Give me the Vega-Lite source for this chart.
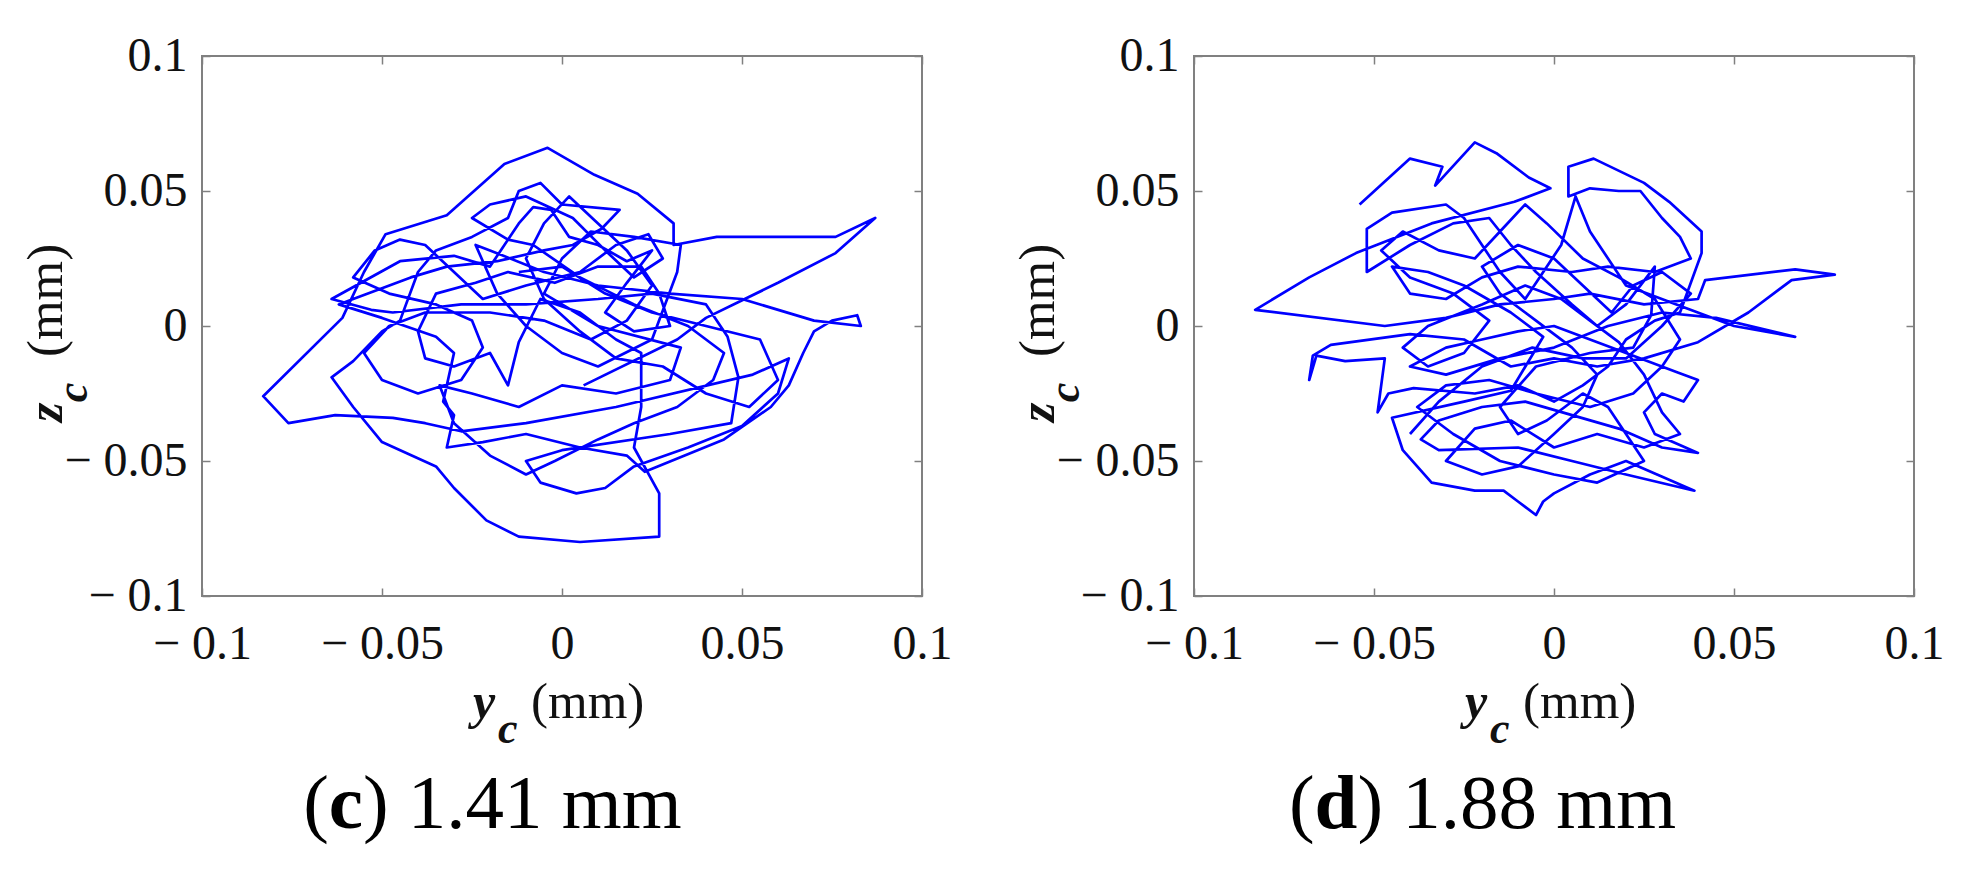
{
  "$schema": "https://vega.github.io/schema/vega-lite/v6.json",
  "background": "white",
  "padding": {"left": 19, "top": 31, "right": 5, "bottom": 5},
  "bounds": "flush",
  "spacing": 272,
  "config": {
    "view": {"stroke": "#808080", "strokeWidth": 2},
    "font": "Liberation Serif",
    "axis": {"grid": false, "domain": false, "labelFont": "Liberation Serif", "labelFontSize": 48, "labelColor": "#111111", "tickColor": "#808080", "tickWidth": 1.5, "tickSize": -8, "labelFlush": false, "labelOverlap": false, "labelBound": false}
  },
  "datasets": {
    "c": [
      {"yc":0.006,"zc":-0.022},{"yc":0.032,"zc":-0.005},{"yc":0.040,"zc":0.003},{"yc":0.060,"zc":0.016},{"yc":0.076,"zc":0.027},{"yc":0.087,"zc":0.040},{"yc":0.076,"zc":0.033},{"yc":0.053,"zc":0.033},{"yc":0.043,"zc":0.033},{"yc":0.031,"zc":0.030},
      {"yc":0.031,"zc":0.038},{"yc":0.021,"zc":0.049},{"yc":0.009,"zc":0.056},{"yc":-0.004,"zc":0.066},{"yc":-0.016,"zc":0.060},{"yc":-0.032,"zc":0.041},{"yc":-0.049,"zc":0.034},{"yc":-0.055,"zc":0.020},{"yc":-0.061,"zc":0.003},{"yc":-0.083,"zc":-0.026},
      {"yc":-0.076,"zc":-0.036},{"yc":-0.063,"zc":-0.033},{"yc":-0.047,"zc":-0.034},{"yc":-0.038,"zc":-0.036},{"yc":-0.028,"zc":-0.039},{"yc":-0.010,"zc":-0.036},{"yc":0.015,"zc":-0.030},{"yc":0.053,"zc":-0.018},{"yc":0.063,"zc":-0.012},{"yc":0.060,"zc":-0.025},
      {"yc":0.050,"zc":-0.037},{"yc":0.035,"zc":-0.045},{"yc":0.020,"zc":-0.052},{"yc":0.012,"zc":-0.060},{"yc":0.004,"zc":-0.062},{"yc":-0.006,"zc":-0.058},{"yc":-0.010,"zc":-0.050},{"yc":0.000,"zc":-0.046},{"yc":0.030,"zc":-0.040},{"yc":0.047,"zc":-0.036},
      {"yc":0.049,"zc":-0.019},{"yc":0.046,"zc":-0.004},{"yc":0.040,"zc":0.008},{"yc":0.025,"zc":0.012},{"yc":0.010,"zc":0.010},{"yc":-0.010,"zc":0.008},{"yc":-0.028,"zc":0.008},{"yc":-0.047,"zc":0.005},{"yc":-0.053,"zc":0.006},{"yc":-0.064,"zc":0.010},
      {"yc":-0.045,"zc":0.024},{"yc":-0.030,"zc":0.026},{"yc":-0.020,"zc":0.022},{"yc":-0.012,"zc":0.038},{"yc":-0.008,"zc":0.044},{"yc":-0.003,"zc":0.043},{"yc":0.002,"zc":0.033},{"yc":0.010,"zc":0.030},{"yc":0.018,"zc":0.024},{"yc":0.025,"zc":0.028},
      {"yc":0.018,"zc":0.016},{"yc":0.012,"zc":0.005},{"yc":0.020,"zc":-0.002},{"yc":0.030,"zc":0.000},{"yc":0.027,"zc":0.012},{"yc":0.022,"zc":0.022},{"yc":0.010,"zc":0.022},{"yc":-0.002,"zc":0.016},{"yc":-0.015,"zc":0.020},{"yc":-0.024,"zc":0.016},
      {"yc":-0.035,"zc":0.012},{"yc":-0.040,"zc":-0.002},{"yc":-0.038,"zc":-0.012},{"yc":-0.030,"zc":-0.015},{"yc":-0.020,"zc":-0.010},{"yc":-0.015,"zc":-0.022},{"yc":-0.012,"zc":-0.006},{"yc":-0.006,"zc":0.010},{"yc":0.005,"zc":0.005},{"yc":0.015,"zc":-0.005},
      {"yc":0.022,"zc":-0.010},{"yc":0.022,"zc":-0.030},{"yc":0.020,"zc":-0.045},{"yc":0.027,"zc":-0.062},{"yc":0.027,"zc":-0.078},{"yc":0.005,"zc":-0.080},{"yc":-0.012,"zc":-0.078},{"yc":-0.021,"zc":-0.072},{"yc":-0.030,"zc":-0.060},{"yc":-0.035,"zc":-0.052},
      {"yc":-0.050,"zc":-0.043},{"yc":-0.058,"zc":-0.030},{"yc":-0.064,"zc":-0.019},{"yc":-0.058,"zc":-0.013},{"yc":-0.050,"zc":-0.002},{"yc":-0.045,"zc":0.002},{"yc":-0.040,"zc":0.020},{"yc":-0.035,"zc":0.028},{"yc":-0.025,"zc":0.033},{"yc":-0.015,"zc":0.040},
      {"yc":-0.012,"zc":0.050},{"yc":-0.006,"zc":0.053},{"yc":0.000,"zc":0.045},{"yc":0.016,"zc":0.043},{"yc":0.011,"zc":0.036},{"yc":0.003,"zc":0.030},{"yc":-0.005,"zc":0.028},{"yc":-0.018,"zc":0.024},{"yc":-0.032,"zc":0.022},{"yc":-0.042,"zc":0.018},
      {"yc":-0.058,"zc":0.010},{"yc":-0.062,"zc":0.008},{"yc":-0.050,"zc":0.003},{"yc":-0.035,"zc":-0.004},{"yc":-0.030,"zc":-0.010},{"yc":-0.033,"zc":-0.028},{"yc":-0.030,"zc":-0.033},{"yc":-0.032,"zc":-0.045},{"yc":-0.022,"zc":-0.043},{"yc":-0.010,"zc":-0.040},
      {"yc":0.005,"zc":-0.045},{"yc":0.018,"zc":-0.048},{"yc":0.023,"zc":-0.054},{"yc":0.045,"zc":-0.042},{"yc":0.058,"zc":-0.030},{"yc":0.063,"zc":-0.022},{"yc":0.067,"zc":-0.010},{"yc":0.070,"zc":-0.002},{"yc":0.075,"zc":0.002},{"yc":0.082,"zc":0.004},
      {"yc":0.083,"zc":0.000},{"yc":0.070,"zc":0.002},{"yc":0.050,"zc":0.010},{"yc":0.030,"zc":0.012},{"yc":0.010,"zc":0.015},{"yc":-0.005,"zc":0.020},{"yc":-0.020,"zc":0.028},{"yc":-0.024,"zc":0.030},{"yc":-0.018,"zc":0.012},{"yc":-0.010,"zc":0.000},
      {"yc":0.000,"zc":-0.010},{"yc":0.010,"zc":-0.015},{"yc":0.025,"zc":-0.005},{"yc":0.032,"zc":0.020},{"yc":0.033,"zc":0.030},{"yc":0.020,"zc":0.033},{"yc":0.008,"zc":0.035},{"yc":0.000,"zc":0.025},{"yc":-0.005,"zc":0.012},{"yc":0.010,"zc":0.000},
      {"yc":0.033,"zc":-0.008},{"yc":0.030,"zc":-0.020},{"yc":0.015,"zc":-0.025},{"yc":0.000,"zc":-0.022},{"yc":-0.012,"zc":-0.030},{"yc":-0.025,"zc":-0.025},{"yc":-0.034,"zc":-0.022},{"yc":-0.030,"zc":-0.036},{"yc":-0.020,"zc":-0.048},{"yc":-0.010,"zc":-0.055},
      {"yc":-0.002,"zc":-0.050},{"yc":0.010,"zc":-0.042},{"yc":0.020,"zc":-0.036},{"yc":0.032,"zc":-0.030},{"yc":0.042,"zc":-0.020},{"yc":0.045,"zc":-0.010},{"yc":0.035,"zc":0.000},{"yc":0.020,"zc":0.008},{"yc":0.005,"zc":0.018},{"yc":-0.008,"zc":0.030},
      {"yc":-0.015,"zc":0.032},{"yc":-0.025,"zc":0.040},{"yc":-0.020,"zc":0.045},{"yc":-0.010,"zc":0.048},{"yc":0.003,"zc":0.040},{"yc":0.012,"zc":0.028},{"yc":0.020,"zc":0.018},{"yc":0.028,"zc":0.025},{"yc":0.024,"zc":0.034},{"yc":0.015,"zc":0.030},
      {"yc":0.005,"zc":0.020},{"yc":-0.010,"zc":0.015},{"yc":-0.022,"zc":0.010},{"yc":-0.030,"zc":0.020},{"yc":-0.038,"zc":0.030},{"yc":-0.045,"zc":0.032},{"yc":-0.052,"zc":0.028},{"yc":-0.058,"zc":0.018},{"yc":-0.048,"zc":0.012},{"yc":-0.035,"zc":0.008},
      {"yc":-0.025,"zc":0.002},{"yc":-0.022,"zc":-0.008},{"yc":-0.028,"zc":-0.020},{"yc":-0.040,"zc":-0.025},{"yc":-0.050,"zc":-0.020},{"yc":-0.055,"zc":-0.010},{"yc":-0.048,"zc":0.000},{"yc":-0.038,"zc":0.005},{"yc":-0.020,"zc":0.005},{"yc":-0.005,"zc":0.002},
      {"yc":0.008,"zc":-0.005},{"yc":0.018,"zc":0.002},{"yc":0.025,"zc":0.015},{"yc":0.018,"zc":0.028},{"yc":0.010,"zc":0.038},{"yc":0.002,"zc":0.048},{"yc":-0.005,"zc":0.038},{"yc":-0.010,"zc":0.025},{"yc":-0.005,"zc":0.010},{"yc":0.005,"zc":-0.002},
      {"yc":0.015,"zc":-0.012},{"yc":0.028,"zc":-0.015},{"yc":0.040,"zc":-0.025},{"yc":0.052,"zc":-0.030},{"yc":0.060,"zc":-0.020},{"yc":0.055,"zc":-0.005},{"yc":0.040,"zc":0.000},{"yc":0.025,"zc":0.005},{"yc":0.012,"zc":0.012},{"yc":0.000,"zc":0.022},
      {"yc":-0.012,"zc":0.020}
    ],
    "d": [
      {"yc":-0.054,"zc":0.045},{"yc":-0.040,"zc":0.062},{"yc":-0.031,"zc":0.059},{"yc":-0.033,"zc":0.052},{"yc":-0.022,"zc":0.068},{"yc":-0.016,"zc":0.064},{"yc":-0.007,"zc":0.055},{"yc":-0.001,"zc":0.051},{"yc":-0.011,"zc":0.046},{"yc":-0.034,"zc":0.038},
      {"yc":-0.055,"zc":0.027},{"yc":-0.068,"zc":0.018},{"yc":-0.083,"zc":0.006},{"yc":-0.047,"zc":0.000},{"yc":-0.030,"zc":0.003},{"yc":-0.015,"zc":0.008},{"yc":0.000,"zc":0.010},{"yc":0.010,"zc":0.012},{"yc":0.025,"zc":0.008},{"yc":0.040,"zc":0.010},
      {"yc":0.042,"zc":0.017},{"yc":0.067,"zc":0.021},{"yc":0.078,"zc":0.019},{"yc":0.066,"zc":0.017},{"yc":0.054,"zc":0.005},{"yc":0.040,"zc":-0.006},{"yc":0.025,"zc":-0.012},{"yc":0.012,"zc":-0.015},{"yc":0.000,"zc":-0.012},{"yc":-0.012,"zc":-0.015},
      {"yc":-0.025,"zc":-0.005},{"yc":-0.040,"zc":-0.003},{"yc":-0.062,"zc":-0.007},{"yc":-0.067,"zc":-0.011},{"yc":-0.068,"zc":-0.020},{"yc":-0.066,"zc":-0.011},{"yc":-0.058,"zc":-0.013},{"yc":-0.047,"zc":-0.012},{"yc":-0.049,"zc":-0.032},{"yc":-0.046,"zc":-0.025},
      {"yc":-0.039,"zc":-0.023},{"yc":-0.022,"zc":-0.025},{"yc":-0.010,"zc":-0.022},{"yc":0.000,"zc":-0.028},{"yc":0.008,"zc":-0.022},{"yc":0.015,"zc":-0.015},{"yc":0.020,"zc":-0.005},{"yc":0.028,"zc":0.002},{"yc":0.035,"zc":0.005},{"yc":0.041,"zc":0.027},
      {"yc":0.041,"zc":0.035},{"yc":0.032,"zc":0.046},{"yc":0.025,"zc":0.053},{"yc":0.011,"zc":0.062},{"yc":0.004,"zc":0.059},{"yc":0.004,"zc":0.048},{"yc":0.010,"zc":0.051},{"yc":0.018,"zc":0.050},{"yc":0.024,"zc":0.050},{"yc":0.030,"zc":0.040},
      {"yc":0.035,"zc":0.033},{"yc":0.038,"zc":0.025},{"yc":0.028,"zc":0.020},{"yc":0.015,"zc":0.022},{"yc":0.005,"zc":0.020},{"yc":-0.010,"zc":0.022},{"yc":-0.020,"zc":0.018},{"yc":-0.030,"zc":0.010},{"yc":-0.040,"zc":0.012},{"yc":-0.045,"zc":0.022},
      {"yc":-0.035,"zc":0.020},{"yc":-0.025,"zc":0.015},{"yc":-0.012,"zc":0.005},{"yc":-0.003,"zc":-0.004},{"yc":-0.012,"zc":-0.024},{"yc":-0.025,"zc":-0.028},{"yc":-0.045,"zc":-0.034},{"yc":-0.042,"zc":-0.046},{"yc":-0.034,"zc":-0.058},{"yc":-0.022,"zc":-0.061},
      {"yc":-0.014,"zc":-0.061},{"yc":-0.010,"zc":-0.065},{"yc":-0.005,"zc":-0.070},{"yc":-0.003,"zc":-0.065},{"yc":0.000,"zc":-0.062},{"yc":0.010,"zc":-0.055},{"yc":0.020,"zc":-0.050},{"yc":0.039,"zc":-0.061},{"yc":0.020,"zc":-0.055},{"yc":0.005,"zc":-0.050},
      {"yc":-0.010,"zc":-0.045},{"yc":-0.032,"zc":-0.046},{"yc":-0.037,"zc":-0.042},{"yc":-0.032,"zc":-0.035},{"yc":-0.020,"zc":-0.030},{"yc":-0.008,"zc":-0.028},{"yc":0.005,"zc":-0.033},{"yc":0.018,"zc":-0.038},{"yc":0.030,"zc":-0.045},{"yc":0.040,"zc":-0.047},
      {"yc":0.028,"zc":-0.040},{"yc":0.025,"zc":-0.032},{"yc":0.030,"zc":-0.025},{"yc":0.036,"zc":-0.028},{"yc":0.040,"zc":-0.020},{"yc":0.034,"zc":-0.017},{"yc":0.020,"zc":-0.010},{"yc":0.010,"zc":-0.005},{"yc":0.000,"zc":0.000},{"yc":-0.010,"zc":-0.002},
      {"yc":-0.020,"zc":-0.005},{"yc":-0.030,"zc":-0.008},{"yc":-0.040,"zc":-0.015},{"yc":-0.030,"zc":-0.018},{"yc":-0.015,"zc":-0.012},{"yc":0.000,"zc":-0.008},{"yc":0.015,"zc":0.000},{"yc":0.030,"zc":0.005},{"yc":0.045,"zc":0.003},{"yc":0.067,"zc":-0.004},
      {"yc":0.050,"zc":0.000},{"yc":0.034,"zc":0.008},{"yc":0.020,"zc":0.015},{"yc":0.010,"zc":0.035},{"yc":0.006,"zc":0.048},{"yc":0.002,"zc":0.030},{"yc":-0.004,"zc":0.018},{"yc":-0.008,"zc":0.010},{"yc":-0.015,"zc":0.020},{"yc":-0.020,"zc":0.030},
      {"yc":-0.025,"zc":0.040},{"yc":-0.030,"zc":0.045},{"yc":-0.045,"zc":0.042},{"yc":-0.052,"zc":0.036},{"yc":-0.052,"zc":0.020},{"yc":-0.040,"zc":0.030},{"yc":-0.028,"zc":0.038},{"yc":-0.018,"zc":0.040},{"yc":-0.012,"zc":0.030},{"yc":-0.005,"zc":0.020},
      {"yc":0.005,"zc":0.008},{"yc":0.012,"zc":0.000},{"yc":0.020,"zc":0.008},{"yc":0.028,"zc":0.022},{"yc":0.027,"zc":0.004},{"yc":0.022,"zc":-0.008},{"yc":0.010,"zc":-0.010},{"yc":-0.005,"zc":-0.015},{"yc":-0.015,"zc":-0.030},{"yc":-0.010,"zc":-0.040},
      {"yc":-0.002,"zc":-0.035},{"yc":0.008,"zc":-0.025},{"yc":0.015,"zc":-0.030},{"yc":0.020,"zc":-0.040},{"yc":0.025,"zc":-0.050},{"yc":0.012,"zc":-0.058},{"yc":0.000,"zc":-0.055},{"yc":-0.015,"zc":-0.050},{"yc":-0.028,"zc":-0.040},{"yc":-0.038,"zc":-0.030},
      {"yc":-0.030,"zc":-0.022},{"yc":-0.018,"zc":-0.020},{"yc":-0.005,"zc":-0.025},{"yc":0.010,"zc":-0.030},{"yc":0.022,"zc":-0.025},{"yc":0.030,"zc":-0.015},{"yc":0.035,"zc":-0.005},{"yc":0.028,"zc":0.010},{"yc":0.018,"zc":0.018},{"yc":0.008,"zc":0.025},
      {"yc":-0.002,"zc":0.038},{"yc":-0.008,"zc":0.045},{"yc":-0.015,"zc":0.035},{"yc":-0.022,"zc":0.025},{"yc":-0.032,"zc":0.028},{"yc":-0.042,"zc":0.035},{"yc":-0.048,"zc":0.028},{"yc":-0.040,"zc":0.018},{"yc":-0.028,"zc":0.012},{"yc":-0.018,"zc":0.002},
      {"yc":-0.025,"zc":-0.010},{"yc":-0.035,"zc":-0.015},{"yc":-0.042,"zc":-0.008},{"yc":-0.035,"zc":0.000},{"yc":-0.020,"zc":0.008},{"yc":-0.008,"zc":0.015},{"yc":0.002,"zc":0.010},{"yc":0.010,"zc":0.002},{"yc":0.018,"zc":-0.006},{"yc":0.025,"zc":-0.018},
      {"yc":0.030,"zc":-0.032},{"yc":0.035,"zc":-0.040},{"yc":0.025,"zc":-0.045},{"yc":0.012,"zc":-0.040},{"yc":0.000,"zc":-0.045},{"yc":-0.012,"zc":-0.035},{"yc":-0.022,"zc":-0.038},{"yc":-0.030,"zc":-0.050},{"yc":-0.020,"zc":-0.055},{"yc":-0.010,"zc":-0.052},
      {"yc":0.000,"zc":-0.040},{"yc":0.008,"zc":-0.030},{"yc":0.012,"zc":-0.018},{"yc":0.005,"zc":-0.008},{"yc":-0.005,"zc":0.002},{"yc":-0.015,"zc":0.012},{"yc":-0.020,"zc":0.022},{"yc":-0.010,"zc":0.030},{"yc":0.000,"zc":0.025},{"yc":0.008,"zc":0.015},
      {"yc":0.016,"zc":0.005},{"yc":0.022,"zc":0.015},{"yc":0.030,"zc":0.020},{"yc":0.038,"zc":0.012},{"yc":0.030,"zc":0.000},{"yc":0.020,"zc":-0.012},{"yc":0.008,"zc":-0.012},{"yc":-0.006,"zc":-0.008},{"yc":-0.020,"zc":-0.015},{"yc":-0.032,"zc":-0.028},
      {"yc":-0.040,"zc":-0.040}
    ]
  },
  "hconcat": [
    {
      "width": 720, "height": 540,
      "resolve": {"axis": {"x": "independent", "y": "independent"}},
      "layer": [
        {"data": {"name": "c"}, "mark": {"type": "line", "color": "#0000ff", "strokeWidth": 2.7, "order": false, "strokeJoin": "round"},
         "encoding": {
           "x": {"field": "yc", "type": "quantitative", "scale": {"domain": [-0.1, 0.1], "nice": false, "zero": false}, "axis": {"orient": "bottom", "title": null, "values": [-0.1, -0.05, 0, 0.05, 0.1], "labelPadding": 32, "labelExpr": "datum.value < 0 ? '\u2212 ' + format(-datum.value, '~g') : format(datum.value, '~g')"}},
           "y": {"field": "zc", "type": "quantitative", "scale": {"domain": [-0.1, 0.1], "nice": false, "zero": false}, "axis": {"orient": "left", "title": null, "values": [-0.1, -0.05, 0, 0.05, 0.1], "labelPadding": 23, "labelExpr": "datum.value < 0 ? '\u2212 ' + format(-datum.value, '~g') : format(datum.value, '~g')"}}
         }},
        {"data": {"values": [{}]}, "mark": {"type": "point", "opacity": 0},
         "encoding": {
           "x": {"datum": 0, "type": "quantitative", "scale": {"domain": [-0.1, 0.1]}, "axis": {"orient": "top", "title": null, "labels": false, "values": [-0.1, -0.05, 0, 0.05, 0.1]}},
           "y": {"datum": 0, "type": "quantitative", "scale": {"domain": [-0.1, 0.1]}, "axis": {"orient": "right", "title": null, "labels": false, "values": [-0.1, -0.05, 0, 0.05, 0.1]}}
         }},
        {"data": {"values": [{}]}, "mark": {"type": "text", "text": "y", "font": "Liberation Serif", "fontSize": 50, "fontStyle": "italic", "fontWeight": "bold", "align": "left", "baseline": "alphabetic", "color": "#111111"},
         "encoding": {"x": {"datum": -0.0247, "type": "quantitative", "scale": {"domain": [-0.1, 0.1]}, "axis": null}, "y": {"datum": -0.1452, "type": "quantitative", "scale": {"domain": [-0.1, 0.1]}, "axis": null}}},
        {"data": {"values": [{}]}, "mark": {"type": "text", "text": "c", "font": "Liberation Serif", "fontSize": 44, "fontStyle": "italic", "fontWeight": "bold", "align": "left", "baseline": "alphabetic", "color": "#111111"},
         "encoding": {"x": {"datum": -0.0178, "type": "quantitative", "scale": {"domain": [-0.1, 0.1]}, "axis": null}, "y": {"datum": -0.1544, "type": "quantitative", "scale": {"domain": [-0.1, 0.1]}, "axis": null}}},
        {"data": {"values": [{}]}, "mark": {"type": "text", "text": "(mm)", "font": "Liberation Serif", "fontSize": 51, "align": "left", "baseline": "alphabetic", "color": "#111111"},
         "encoding": {"x": {"datum": -0.0086, "type": "quantitative", "scale": {"domain": [-0.1, 0.1]}, "axis": null}, "y": {"datum": -0.1452, "type": "quantitative", "scale": {"domain": [-0.1, 0.1]}, "axis": null}}},
        {"data": {"values": [{}]}, "mark": {"type": "text", "text": "z", "font": "Liberation Serif", "fontSize": 50, "fontStyle": "italic", "fontWeight": "bold", "align": "left", "baseline": "alphabetic", "angle": 270, "color": "#111111"},
         "encoding": {"x": {"datum": -0.1389, "type": "quantitative", "scale": {"domain": [-0.1, 0.1]}, "axis": null}, "y": {"datum": -0.0356, "type": "quantitative", "scale": {"domain": [-0.1, 0.1]}, "axis": null}}},
        {"data": {"values": [{}]}, "mark": {"type": "text", "text": "c", "font": "Liberation Serif", "fontSize": 44, "fontStyle": "italic", "fontWeight": "bold", "align": "left", "baseline": "alphabetic", "angle": 270, "color": "#111111"},
         "encoding": {"x": {"datum": -0.1319, "type": "quantitative", "scale": {"domain": [-0.1, 0.1]}, "axis": null}, "y": {"datum": -0.0282, "type": "quantitative", "scale": {"domain": [-0.1, 0.1]}, "axis": null}}},
        {"data": {"values": [{}]}, "mark": {"type": "text", "text": "(mm)", "font": "Liberation Serif", "fontSize": 51, "align": "left", "baseline": "alphabetic", "angle": 270, "color": "#111111"},
         "encoding": {"x": {"datum": -0.1389, "type": "quantitative", "scale": {"domain": [-0.1, 0.1]}, "axis": null}, "y": {"datum": -0.0115, "type": "quantitative", "scale": {"domain": [-0.1, 0.1]}, "axis": null}}},
        {"data": {"values": [{}]}, "mark": {"type": "text", "text": "(", "font": "Liberation Serif", "fontSize": 77, "align": "left", "baseline": "alphabetic", "color": "#000000"},
         "encoding": {"x": {"datum": -0.0719, "type": "quantitative", "scale": {"domain": [-0.1, 0.1]}, "axis": null}, "y": {"datum": -0.1859, "type": "quantitative", "scale": {"domain": [-0.1, 0.1]}, "axis": null}}},
        {"data": {"values": [{}]}, "mark": {"type": "text", "text": "c", "font": "Liberation Serif", "fontSize": 77, "fontWeight": "bold", "align": "left", "baseline": "alphabetic", "color": "#000000"},
         "encoding": {"x": {"datum": -0.0648, "type": "quantitative", "scale": {"domain": [-0.1, 0.1]}, "axis": null}, "y": {"datum": -0.1859, "type": "quantitative", "scale": {"domain": [-0.1, 0.1]}, "axis": null}}},
        {"data": {"values": [{}]}, "mark": {"type": "text", "text": ") 1.41 mm", "font": "Liberation Serif", "fontSize": 77, "align": "left", "baseline": "alphabetic", "color": "#000000"},
         "encoding": {"x": {"datum": -0.0553, "type": "quantitative", "scale": {"domain": [-0.1, 0.1]}, "axis": null}, "y": {"datum": -0.1859, "type": "quantitative", "scale": {"domain": [-0.1, 0.1]}, "axis": null}}}
      ]
    },
    {
      "width": 720, "height": 540,
      "resolve": {"axis": {"x": "independent", "y": "independent"}},
      "layer": [
        {"data": {"name": "d"}, "mark": {"type": "line", "color": "#0000ff", "strokeWidth": 2.7, "order": false, "strokeJoin": "round"},
         "encoding": {
           "x": {"field": "yc", "type": "quantitative", "scale": {"domain": [-0.1, 0.1], "nice": false, "zero": false}, "axis": {"orient": "bottom", "title": null, "values": [-0.1, -0.05, 0, 0.05, 0.1], "labelPadding": 32, "labelExpr": "datum.value < 0 ? '\u2212 ' + format(-datum.value, '~g') : format(datum.value, '~g')"}},
           "y": {"field": "zc", "type": "quantitative", "scale": {"domain": [-0.1, 0.1], "nice": false, "zero": false}, "axis": {"orient": "left", "title": null, "values": [-0.1, -0.05, 0, 0.05, 0.1], "labelPadding": 23, "labelExpr": "datum.value < 0 ? '\u2212 ' + format(-datum.value, '~g') : format(datum.value, '~g')"}}
         }},
        {"data": {"values": [{}]}, "mark": {"type": "point", "opacity": 0},
         "encoding": {
           "x": {"datum": 0, "type": "quantitative", "scale": {"domain": [-0.1, 0.1]}, "axis": {"orient": "top", "title": null, "labels": false, "values": [-0.1, -0.05, 0, 0.05, 0.1]}},
           "y": {"datum": 0, "type": "quantitative", "scale": {"domain": [-0.1, 0.1]}, "axis": {"orient": "right", "title": null, "labels": false, "values": [-0.1, -0.05, 0, 0.05, 0.1]}}
         }},
        {"data": {"values": [{}]}, "mark": {"type": "text", "text": "y", "font": "Liberation Serif", "fontSize": 50, "fontStyle": "italic", "fontWeight": "bold", "align": "left", "baseline": "alphabetic", "color": "#111111"},
         "encoding": {"x": {"datum": -0.0247, "type": "quantitative", "scale": {"domain": [-0.1, 0.1]}, "axis": null}, "y": {"datum": -0.1452, "type": "quantitative", "scale": {"domain": [-0.1, 0.1]}, "axis": null}}},
        {"data": {"values": [{}]}, "mark": {"type": "text", "text": "c", "font": "Liberation Serif", "fontSize": 44, "fontStyle": "italic", "fontWeight": "bold", "align": "left", "baseline": "alphabetic", "color": "#111111"},
         "encoding": {"x": {"datum": -0.0178, "type": "quantitative", "scale": {"domain": [-0.1, 0.1]}, "axis": null}, "y": {"datum": -0.1544, "type": "quantitative", "scale": {"domain": [-0.1, 0.1]}, "axis": null}}},
        {"data": {"values": [{}]}, "mark": {"type": "text", "text": "(mm)", "font": "Liberation Serif", "fontSize": 51, "align": "left", "baseline": "alphabetic", "color": "#111111"},
         "encoding": {"x": {"datum": -0.0086, "type": "quantitative", "scale": {"domain": [-0.1, 0.1]}, "axis": null}, "y": {"datum": -0.1452, "type": "quantitative", "scale": {"domain": [-0.1, 0.1]}, "axis": null}}},
        {"data": {"values": [{}]}, "mark": {"type": "text", "text": "z", "font": "Liberation Serif", "fontSize": 50, "fontStyle": "italic", "fontWeight": "bold", "align": "left", "baseline": "alphabetic", "angle": 270, "color": "#111111"},
         "encoding": {"x": {"datum": -0.1389, "type": "quantitative", "scale": {"domain": [-0.1, 0.1]}, "axis": null}, "y": {"datum": -0.0356, "type": "quantitative", "scale": {"domain": [-0.1, 0.1]}, "axis": null}}},
        {"data": {"values": [{}]}, "mark": {"type": "text", "text": "c", "font": "Liberation Serif", "fontSize": 44, "fontStyle": "italic", "fontWeight": "bold", "align": "left", "baseline": "alphabetic", "angle": 270, "color": "#111111"},
         "encoding": {"x": {"datum": -0.1319, "type": "quantitative", "scale": {"domain": [-0.1, 0.1]}, "axis": null}, "y": {"datum": -0.0282, "type": "quantitative", "scale": {"domain": [-0.1, 0.1]}, "axis": null}}},
        {"data": {"values": [{}]}, "mark": {"type": "text", "text": "(mm)", "font": "Liberation Serif", "fontSize": 51, "align": "left", "baseline": "alphabetic", "angle": 270, "color": "#111111"},
         "encoding": {"x": {"datum": -0.1389, "type": "quantitative", "scale": {"domain": [-0.1, 0.1]}, "axis": null}, "y": {"datum": -0.0115, "type": "quantitative", "scale": {"domain": [-0.1, 0.1]}, "axis": null}}},
        {"data": {"values": [{}]}, "mark": {"type": "text", "text": "(", "font": "Liberation Serif", "fontSize": 77, "align": "left", "baseline": "alphabetic", "color": "#000000"},
         "encoding": {"x": {"datum": -0.0736, "type": "quantitative", "scale": {"domain": [-0.1, 0.1]}, "axis": null}, "y": {"datum": -0.1859, "type": "quantitative", "scale": {"domain": [-0.1, 0.1]}, "axis": null}}},
        {"data": {"values": [{}]}, "mark": {"type": "text", "text": "d", "font": "Liberation Serif", "fontSize": 77, "fontWeight": "bold", "align": "left", "baseline": "alphabetic", "color": "#000000"},
         "encoding": {"x": {"datum": -0.0665, "type": "quantitative", "scale": {"domain": [-0.1, 0.1]}, "axis": null}, "y": {"datum": -0.1859, "type": "quantitative", "scale": {"domain": [-0.1, 0.1]}, "axis": null}}},
        {"data": {"values": [{}]}, "mark": {"type": "text", "text": ") 1.88 mm", "font": "Liberation Serif", "fontSize": 77, "align": "left", "baseline": "alphabetic", "color": "#000000"},
         "encoding": {"x": {"datum": -0.0546, "type": "quantitative", "scale": {"domain": [-0.1, 0.1]}, "axis": null}, "y": {"datum": -0.1859, "type": "quantitative", "scale": {"domain": [-0.1, 0.1]}, "axis": null}}}
      ]
    }
  ]
}
